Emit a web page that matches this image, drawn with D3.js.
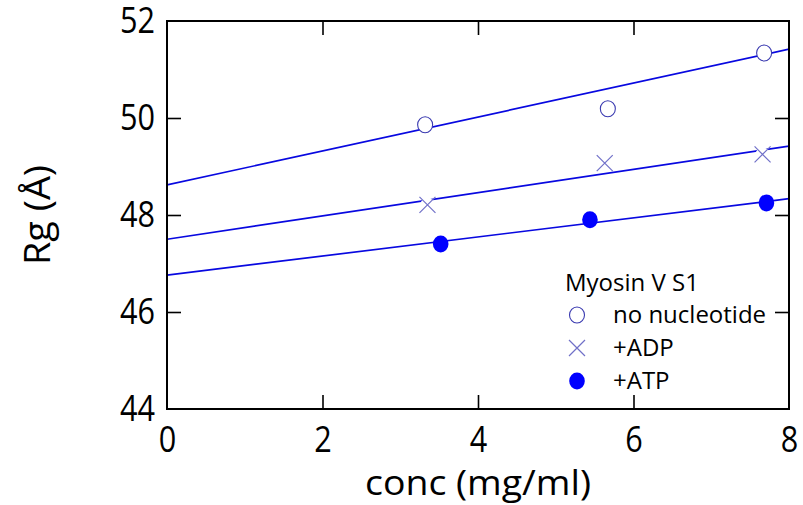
<!DOCTYPE html>
<html><head><meta charset="utf-8">
<script src="https://cdn.jsdelivr.net/npm/d3@7"></script>
<style>
html,body{margin:0;padding:0;background:#fff;}
text{font-family:"Open Sans","DejaVu Sans",sans-serif;}
</style></head>
<body><svg id="chart" width="803" height="505"></svg>
<script>
// ---- data ----
const seriesNames = ["no nucleotide", "+ADP", "+ATP"];
const xNone = [3.32, 5.67, 7.68];
const yNone = [49.86, 50.19, 51.34];
const xADP  = [3.35, 5.63, 7.66];
const yADP  = [48.21, 49.07, 49.25];
const xATP  = [3.52, 5.44, 7.71];
const yATP  = [47.40, 47.90, 48.25];
const fitIntercept = [48.62, 47.50, 46.76];
const fitSlope     = [0.350, 0.240, 0.197];
const xTicks = [0, 2, 4, 6, 8];
const yTicks = [44, 46, 48, 50, 52];
const legendTitle = "Myosin V S1";

const W = 803, H = 505;
const m = {left:167, right:14, top:21, bottom:96};
const svg = d3.select("#chart");
const x = d3.scaleLinear().domain([0, 8]).range([m.left, W - m.right]);
const y = d3.scaleLinear().domain([44, 52]).range([H - m.bottom, m.top]);

const lineColor = "#0808e0";
const series = [
  {xs:xNone, ys:yNone, type:"circle"},
  {xs:xADP,  ys:yADP,  type:"cross"},
  {xs:xATP,  ys:yATP,  type:"dot"}
];

svg.append("clipPath").attr("id","clip").append("rect")
  .attr("x", m.left).attr("y", m.top)
  .attr("width", x(8) - x(0)).attr("height", y(44) - y(52));

const plot = svg.append("g").attr("clip-path","url(#clip)");

// fit lines
series.forEach((s, i) => {
  plot.append("line")
    .attr("x1", x(0)).attr("y1", y(fitIntercept[i]))
    .attr("x2", x(8)).attr("y2", y(fitIntercept[i] + fitSlope[i] * 8))
    .attr("stroke", lineColor).attr("stroke-width", 1.7);
});

function drawMarker(g, type, cx, cy) {
  if (type === "circle") {
    g.append("ellipse").attr("cx", cx).attr("cy", cy).attr("rx", 7.5).attr("ry", 8)
      .attr("fill", "#fff").attr("stroke", "#3a3ab0").attr("stroke-width", 1.1);
  } else if (type === "cross") {
    g.append("circle").attr("cx", cx).attr("cy", cy).attr("r", 7).attr("fill", "#fff");
    const d = 8;
    g.append("path")
      .attr("d", `M${cx-d},${cy-d}L${cx+d},${cy+d}M${cx-d},${cy+d}L${cx+d},${cy-d}`)
      .attr("stroke", "#7070c8").attr("stroke-width", 1.2).attr("fill", "none");
  } else {
    g.append("ellipse").attr("cx", cx).attr("cy", cy).attr("rx", 7.8).attr("ry", 8.5)
      .attr("fill", "#0000ff");
  }
}

series.forEach(s => {
  s.xs.forEach((xv, j) => drawMarker(plot, s.type, x(xv), y(s.ys[j])));
});

// axes with inward ticks
const tickLen = 14;
const inner = (v) => v !== 0 && v !== 8;
const innerY = (v) => v !== 44 && v !== 52;
const axB = svg.append("g").attr("transform", `translate(0,${y(44)})`)
  .call(d3.axisBottom(x).tickValues(xTicks).tickSize(-tickLen).tickPadding(17).tickFormat(d3.format("d")));
const axT = svg.append("g").attr("transform", `translate(0,${y(52)})`)
  .call(d3.axisTop(x).tickValues(xTicks.filter(inner)).tickSize(-tickLen).tickFormat(""));
const axL = svg.append("g").attr("transform", `translate(${x(0)},0)`)
  .call(d3.axisLeft(y).tickValues(yTicks).tickSize(-tickLen).tickPadding(12).tickFormat(d3.format("d")));
const axR = svg.append("g").attr("transform", `translate(${x(8)},0)`)
  .call(d3.axisRight(y).tickValues(yTicks.filter(innerY)).tickSize(-tickLen).tickFormat(""));
[axB, axT, axL, axR].forEach(a => {
  a.select(".domain").remove();
  a.selectAll(".tick line").attr("stroke", "#000").attr("stroke-width", 1.6);
});
axB.selectAll(".tick").filter(d => !inner(d)).select("line").remove();
axL.selectAll(".tick").filter(d => !innerY(d)).select("line").remove();
[axB, axL].forEach(a => a.selectAll(".tick text")
  .attr("font-size", 37).attr("fill", "#000")
  .style("font-family", '"Open Sans","DejaVu Sans",sans-serif')
  .attr("textLength", function(){ return this.textContent.length * 17.5; })
  .attr("lengthAdjust", "spacingAndGlyphs"));
axB.selectAll(".tick text").attr("dy", "0.71em");

// frame
svg.append("rect").attr("x", x(0)).attr("y", y(52))
  .attr("width", x(8) - x(0)).attr("height", y(44) - y(52))
  .attr("fill", "none").attr("stroke", "#000").attr("stroke-width", 2);

// axis titles
svg.append("text").attr("x", (x(0)+x(8))/2).attr("y", 495)
  .attr("text-anchor","middle").attr("font-size", 34).attr("fill","#000")
  .attr("textLength", 226).attr("lengthAdjust","spacingAndGlyphs")
  .text("conc (mg/ml)");
svg.append("text")
  .attr("transform", `translate(50,${(y(44)+y(52))/2}) rotate(-90)`)
  .attr("text-anchor","middle").attr("font-size", 36).attr("fill","#000")
  .attr("textLength", 100).attr("lengthAdjust","spacingAndGlyphs")
  .text("Rg (Å)");

// legend
const lg = svg.append("g");
lg.append("text").attr("x", 565).attr("y", 291).attr("font-size", 24).attr("fill","#000").text(legendTitle);
const rowY = [315, 348, 381];
series.forEach((s, i) => {
  drawMarker(lg, s.type, 577, rowY[i]);
  lg.append("text").attr("x", 613).attr("y", rowY[i] + 8).attr("font-size", 24).attr("fill","#000")
    .text(seriesNames[i]);
});
</script></body></html>
